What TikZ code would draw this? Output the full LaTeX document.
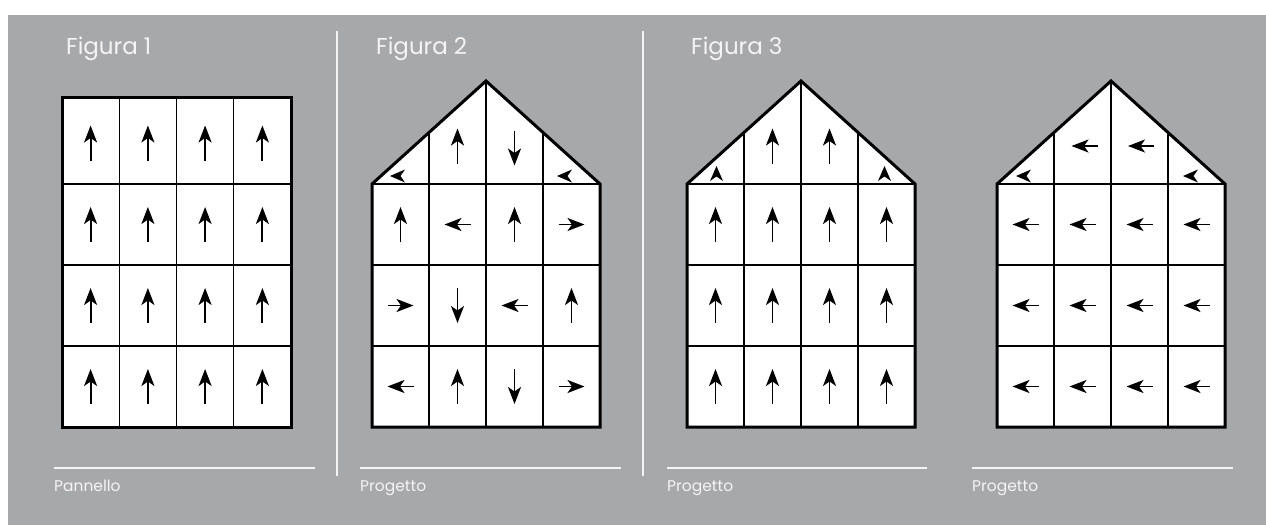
\documentclass[tikz,border=0pt]{standalone}
\usepackage{fontspec}
\setmainfont{Poppins}
\usetikzlibrary{arrows.meta}
\definecolor{panelgray}{RGB}{167,168,170}
\definecolor{labelwhite}{RGB}{244,244,244}
\tikzset{
  frame/.style={line width=3pt, line join=miter},
  gridline/.style={line width=1.3pt},
  cellarrow/.style={-{Stealth[length=17pt,width=13pt,inset=4.5pt]}, line width=1.9pt},
  rule/.style={labelwhite, line width=1.6pt},
  divider/.style={labelwhite, line width=2.6pt},
  figtitle/.style={anchor=base west, text=labelwhite, inner sep=0pt, font=\fontsize{23}{27}\selectfont},
  figcaption/.style={anchor=base west, text=labelwhite, inner sep=0pt, font=\fontsize{15.5}{18}\selectfont}
}
\newcommand{\arU}[2]{\draw[cellarrow] (#1,#2+17.5) -- (#1,#2-17.5);}
\newcommand{\arD}[2]{\draw[cellarrow] (#1,#2-17.5) -- (#1,#2+17.5);}
\newcommand{\arL}[2]{\draw[cellarrow] (#1+13,#2) -- (#1-13,#2);}
\newcommand{\arR}[2]{\draw[cellarrow] (#1-13,#2) -- (#1+13,#2);}
\newcommand{\tipL}[2]{\fill (#1,#2) -- (#1+15,#2-6.5) -- (#1+10.5,#2) -- (#1+15,#2+6.5) -- cycle;}
\newcommand{\tipU}[2]{\fill (#1,#2) -- (#1-6.5,#2+15) -- (#1,#2+10.5) -- (#1+6.5,#2+15) -- cycle;}
% house outline with its grid, #1 = left edge
\newcommand{\house}[1]{
  \fill[white] (#1,184) -- (#1+114,81) -- (#1+228,184) -- (#1+228,427) -- (#1,427) -- cycle;
  \draw[gridline] (#1+57,132.5) -- (#1+57,427);
  \draw[gridline] (#1+114,81) -- (#1+114,427);
  \draw[gridline] (#1+171,132.5) -- (#1+171,427);
  \foreach \r in {184,265,346} {\draw[gridline] (#1,\r) -- (#1+228,\r);}
}
\newcommand{\houseframe}[1]{
  \draw[frame] (#1,184) -- (#1+114,81) -- (#1+228,184) -- (#1+228,427) -- (#1,427) -- cycle;
}

\begin{document}
\begin{tikzpicture}[x=1pt,y=-1pt]
\useasboundingbox (0,0) rectangle (1266,525);
\fill[panelgray] (8,15) rectangle (1266,525);

\draw[divider] (337,31) -- (337,476);
\draw[divider] (643,31) -- (643,476);

\node[figtitle] (t1) at (66,54) {Figura 1};
\node[figtitle] (t2) at (376,54) {Figura 2};
\node[figtitle] (t3) at (691,54) {Figura 3};

\draw[rule] (54,468) -- (315,468);
\draw[rule] (360,468) -- (621,468);
\draw[rule] (667,468) -- (927,468);
\draw[rule] (972,468) -- (1233,468);
\node[figcaption] (c1) at (54,491) {Pannello};
\node[figcaption] (c2) at (360,491) {Progetto};
\node[figcaption] (c3) at (667,491) {Progetto};
\node[figcaption] (c4) at (972,491) {Progetto};

% Figura 1
\fill[white] (62,97) rectangle (291,427);
\foreach \c in {119.25,176.5,233.75} {\draw[gridline] (\c,97) -- (\c,427);}
\foreach \r in {184,265,346} {\draw[gridline] (62,\r) -- (291,\r);}
\foreach \x in {90.6,147.9,205.1,262.4} {
  \foreach \y in {143,224.5,305.5,386.5} {\arU{\x}{\y}}
}
\draw[frame] (62,97) rectangle (291,427);

% Figura 2
\house{372}
\tipL{390}{176} \arU{457.5}{146} \arD{514.5}{148} \tipL{557}{176}
\arU{400.5}{224.5} \arL{457.5}{224.5} \arU{514.5}{224.5} \arR{571.5}{224.5}
\arR{400.5}{305.5} \arD{457.5}{305.5} \arL{514.5}{305.5} \arU{571.5}{305.5}
\arL{400.5}{386.5} \arU{457.5}{386.5} \arD{514.5}{386.5} \arR{571.5}{386.5}
\houseframe{372}

% Figura 3
\house{687}
\tipU{716.5}{166} \arU{772.5}{146} \arU{829.5}{146} \tipU{884.5}{166}
\foreach \x in {715.5,772.5,829.5,886.5} {
  \foreach \y in {224.5,305.5,386.5} {\arU{\x}{\y}}
}
\houseframe{687}

% pannello finale
\house{997}
\tipL{1016}{176} \arL{1084.5}{146} \arL{1141}{146} \tipL{1183}{176}
\foreach \x in {1025.5,1082.5,1139.5,1196.5} {
  \foreach \y in {224.5,305.5,386.5} {\arL{\x}{\y}}
}
\houseframe{997}
\end{tikzpicture}
\end{document}
